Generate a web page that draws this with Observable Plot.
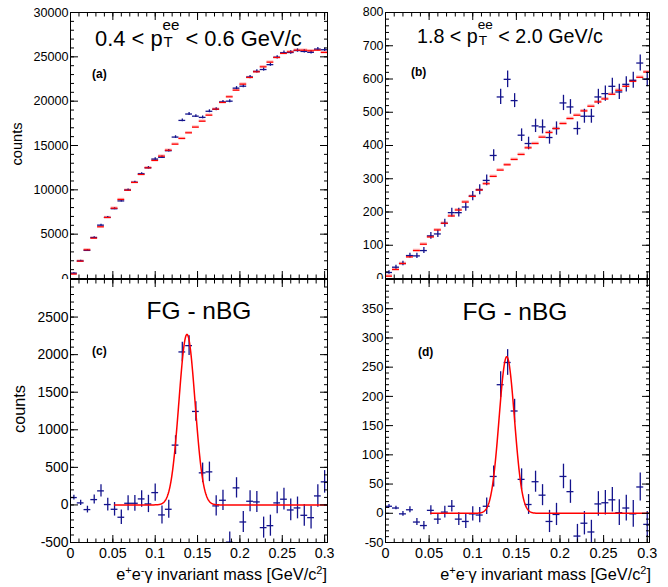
<!DOCTYPE html>
<html><head><meta charset="utf-8">
<script src="https://cdn.jsdelivr.net/npm/d3@7"></script>
<script src="https://cdn.jsdelivr.net/npm/@observablehq/plot@0.6"></script>
<style>
body{margin:0;background:#fff;}
#wrap{position:relative;width:668px;height:587px;background:#fff;overflow:hidden;font-family:"Liberation Sans",Arial,Helvetica,sans-serif;}
</style></head><body><div id="wrap"></div>
<script>
// bin centres of e+e-gamma invariant mass [GeV/c^2]
const mass = [0.004,0.012,0.020,0.028,0.036,0.044,0.052,0.060,0.068,0.076,0.084,0.092,0.100,0.108,0.116,0.124,0.132,0.140,0.148,0.156,0.164,0.172,0.180,0.188,0.196,0.204,0.212,0.220,0.228,0.236,0.244,0.252,0.260,0.268,0.276,0.284,0.292,0.300];
const binHalfWidth = 0.004;

// (a) 0.4 < pT < 0.6 : foreground (blue) and normalised background (red)
const fgA  = [600,1980,3170,4620,6020,6890,7870,8750,9980,10850,11810,12490,13470,13670,14410,15950,17830,18550,18310,18170,18860,19090,19910,20000,21470,21690,22720,23350,23570,24120,24950,25460,25490,25710,25610,25510,25870,25800];
const errA = [60,70,80,90,100,105,110,115,120,125,130,135,140,140,145,150,160,160,160,160,165,165,170,170,175,175,180,180,180,185,185,190,190,190,190,190,190,190];
const nbgA = [500,1955,3230,4550,5830,6880,7930,8910,9960,10830,11730,12480,13310,13800,14470,15150,15790,16430,17070,17740,18420,19100,19850,20490,21240,21920,22670,23310,23870,24400,24920,25380,25560,25750,25750,25680,25750,25490];
const nbgErrA = 130;

// (b) 1.8 < pT < 2.0
const fgB  = [18,34,45,69,68,84,128,134,166,198,198,215,248,267,295,370,546,599,535,431,406,459,456,424,451,528,516,451,488,488,546,556,578,561,584,596,648,599];
const errB = [5,6,7,7,8,9,10,11,12,13,13,13,14,15,16,17,23,25,21,19,19,20,21,20,20,23,22,20,21,21,23,23,24,23,23,24,24,22];
const nbgB = [7,27,45,65,84,103,125,146,166,188,206,230,247,266,285,307,326,342,358,373,393,406,425,439,451,466,481,491,504,518,531,540,554,566,578,593,605,621];
const nbgErrB = 4;

// (c) FG - nBG for (a)
const sigC = [98,27,-62,71,187,5,-58,-164,22,22,80,13,164,-133,-58,796,2036,2120,1244,427,440,-13,62,-495,227,-227,49,40,-302,-276,27,76,-67,-40,-138,-169,120,307];
const errC = [32,35,45,60,80,85,90,95,100,105,110,115,115,120,120,125,130,130,130,130,130,135,135,135,135,140,140,140,140,140,145,145,145,145,145,150,150,150];
const fitC = {mean: 0.1375, sigma: 0.0095, amplitude: 2270, from: 0.052, to: 0.3025};

// (d) FG - nBG for (b)
const sigD = [12,9,-1,6,-15,-21,5,-10,2,12,-10,-14,-1,-3,12,63,220,258,175,58,15,54,31,-14,-2,63,37,-39,-17,-32,16,18,23,1,9,-1,45,-19];
const errD = [3,3,4,5,6,7,8,9,10,10,11,12,12,13,14,18,22,22,20,18,17,18,18,19,19,21,20,20,20,20,21,21,21,22,22,23,24,22];
const fitD = {mean: 0.139, sigma: 0.0088, amplitude: 268, from: 0.052, to: 0.3025};

// tick labels
const xTickLabels = [0, 0.05, 0.1, 0.15, 0.2, 0.25, 0.3];
const yLabelsA = [0, 5000, 10000, 15000, 20000, 25000, 30000];
const yLabelsB = [0, 100, 200, 300, 400, 500, 600, 700, 800];
const yLabelsC = [-500, 0, 500, 1000, 1500, 2000, 2500];
const yLabelsD = [-50, 0, 50, 100, 150, 200, 250, 300, 350];

const FONT = '"Liberation Sans", Arial, Helvetica, sans-serif';
const BLUE = "#13138c", RED = "#ff0000", PINK = "#ff9090";
const wrap = document.getElementById("wrap");

function frameAxes({xDomain, yDomain, yMajorStep, yMinorStep, yLabels, yFont, xLabels, xFont}) {
  const xMajor = d3.range(0, xDomain[1] + 1e-9, 0.05);
  const xMinor = d3.range(0, xDomain[1] + 1e-9, 0.01);
  const yMajor = d3.range(yDomain[0], yDomain[1] + 1e-9, yMajorStep);
  const yMinor = d3.range(yDomain[0], yDomain[1] + 1e-9, yMinorStep);
  const c = {fill: "none", stroke: "black", label: null};
  const m = [
    Plot.axisY(yMajor, {anchor: "left", tickSize: -8, ...c}),
    Plot.axisY(yMinor, {anchor: "left", tickSize: -4, ...c}),
    Plot.axisY(yMajor, {anchor: "right", tickSize: -8, ...c}),
    Plot.axisY(yMinor, {anchor: "right", tickSize: -4, ...c}),
    Plot.axisX(xMajor, {anchor: "bottom", tickSize: -7, ...c}),
    Plot.axisX(xMinor, {anchor: "bottom", tickSize: -3.5, ...c}),
    Plot.axisX(xMajor, {anchor: "top", tickSize: -7, ...c}),
    Plot.axisX(xMinor, {anchor: "top", tickSize: -3.5, ...c}),
    Plot.axisY(yLabels, {anchor: "left", tickSize: 0, tickPadding: 2, fontSize: yFont, tickFormat: d => String(d), label: null, fill: "black"})
  ];
  if (xLabels) m.push(Plot.axisX(xLabels, {anchor: "bottom", tickSize: 0, tickPadding: 5, fontSize: xFont, tickFormat: d => String(d), label: null, fill: "black"}));
  return m;
}

function makePanel({left, top, width, height, mL, mR, mT, mB, xDomain, yDomain, marks, bg}) {
  const svg = Plot.plot({
    width, height, marginLeft: mL, marginRight: mR, marginTop: mT, marginBottom: mB,
    x: {domain: xDomain, axis: null, label: null},
    y: {domain: yDomain, axis: null, label: null},
    style: {fontFamily: FONT, background: bg || "transparent", color: "black"},
    marks: [...marks, Plot.frame({stroke: "black"})]
  });
  svg.style.position = "absolute";
  svg.style.left = left + "px";
  svg.style.top = top + "px";
  wrap.appendChild(svg);
}

function topMarks(fg, err, nbg, nbgErr) {
  const rows = mass.map((x, i) => ({x, fg: fg[i], e: err[i], bg: nbg[i]}));
  return [
    Plot.rect(rows, {x1: d => d.x - binHalfWidth, x2: d => d.x + binHalfWidth, y1: d => d.bg - nbgErr, y2: d => d.bg + nbgErr, fill: PINK, fillOpacity: 0.75, clip: true}),
    Plot.ruleX(rows, {x: "x", y1: d => d.fg - d.e, y2: d => d.fg + d.e, stroke: BLUE, strokeWidth: 1.3, clip: true}),
    Plot.ruleY(rows, {y: "fg", x1: d => d.x - binHalfWidth, x2: d => d.x + binHalfWidth, stroke: BLUE, strokeWidth: 1.3, clip: true}),
    Plot.ruleY(rows, {y: "bg", x1: d => d.x - binHalfWidth, x2: d => d.x + binHalfWidth, stroke: RED, strokeWidth: 1.2, clip: true})
  ];
}

function gaussFit(f) {
  const xs = d3.range(f.from, f.to, 0.0005).concat([f.to]);
  return xs.map(x => ({x, y: f.amplitude * Math.exp(-0.5 * ((x - f.mean) / f.sigma) ** 2)}));
}

function bottomMarks(sig, err, fit) {
  const rows = mass.map((x, i) => ({x, s: sig[i], e: err[i]}));
  return [
    Plot.ruleX(rows, {x: "x", y1: d => d.s - d.e, y2: d => d.s + d.e, stroke: BLUE, strokeWidth: 1.3, clip: true}),
    Plot.ruleY(rows, {y: "s", x1: d => d.x - binHalfWidth, x2: d => d.x + binHalfWidth, stroke: BLUE, strokeWidth: 1.3, clip: true}),
    Plot.line(gaussFit(fit), {x: "x", y: "y", stroke: RED, strokeWidth: 1.5, clip: true})
  ];
}

const xDomL = [0, 0.3034], xDomR = [0, 0.3026];

// top-left (a)
makePanel({left: 0, top: 0, width: 335, height: 290, mL: 70, mR: 8, mT: 12, mB: 12,
  xDomain: xDomL, yDomain: [0, 30000],
  marks: [...topMarks(fgA, errA, nbgA, nbgErrA),
          ...frameAxes({xDomain: xDomL, yDomain: [0, 30000], yMajorStep: 5000, yMinorStep: 1000, yLabels: yLabelsA, yFont: 12.6})]});
// top-right (b)
makePanel({left: 335, top: 0, width: 333, height: 290, mL: 50, mR: 19, mT: 12, mB: 12,
  xDomain: xDomR, yDomain: [0, 800],
  marks: [...topMarks(fgB, errB, nbgB, nbgErrB),
          ...frameAxes({xDomain: xDomR, yDomain: [0, 800], yMajorStep: 100, yMinorStep: 20, yLabels: yLabelsB, yFont: 12.4})]});
// bottom-left (c)
makePanel({left: 0, top: 279, width: 335, height: 308, mL: 70, mR: 8, mT: 0, mB: 45, bg: "white",
  xDomain: xDomL, yDomain: [-500, 3000],
  marks: [...bottomMarks(sigC, errC, fitC),
          ...frameAxes({xDomain: xDomL, yDomain: [-500, 3000], yMajorStep: 500, yMinorStep: 100, yLabels: yLabelsC, yFont: 13.9, xLabels: xTickLabels, xFont: 14.2})]});
// bottom-right (d)
makePanel({left: 335, top: 279, width: 333, height: 308, mL: 50, mR: 19, mT: 0, mB: 45, bg: "white",
  xDomain: xDomR, yDomain: [-50, 400],
  marks: [...bottomMarks(sigD, errD, fitD),
          ...frameAxes({xDomain: xDomR, yDomain: [-50, 400], yMajorStep: 50, yMinorStep: 10, yLabels: yLabelsD, yFont: 13, xLabels: xTickLabels, xFont: 14.4})]});

// text overlay
const ov = d3.select(wrap).append("svg").attr("width", 668).attr("height", 587)
  .style("position", "absolute").style("left", "0px").style("top", "0px")
  .style("font-family", FONT).attr("fill", "black");

function pTitle(x0, base, fs, pre, post) {
  const t1 = ov.append("text").attr("x", x0).attr("y", base).attr("font-size", fs).text(pre);
  const w1 = t1.node().getComputedTextLength();
  const sfs = fs * 0.69;
  const s1 = ov.append("text").attr("x", x0 + w1).attr("y", base - 0.72 * fs).attr("font-size", sfs).text("ee");
  ov.append("text").attr("x", x0 + w1 + 1).attr("y", base + 0.07 * fs).attr("font-size", sfs).text("T");
  const ws = s1.node().getComputedTextLength();
  ov.append("text").attr("x", x0 + w1 + ws + 0.278 * fs).attr("y", base).attr("font-size", fs).text(post);
}
pTitle(95, 45.5, 21.9, "0.4 < p", "< 0.6 GeV/c");
pTitle(417, 43.3, 19.7, "1.8 < p", "< 2.0 GeV/c");

[["(a)", 92, 77.5], ["(b)", 411, 76], ["(c)", 92, 355], ["(d)", 418, 355.5]].forEach(([t, x, y]) =>
  ov.append("text").attr("x", x).attr("y", y).attr("font-size", 12).attr("font-weight", "bold").text(t));

ov.append("text").attr("x", 199).attr("y", 318.5).attr("font-size", 24.5).attr("text-anchor", "middle").text("FG - nBG");
ov.append("text").attr("x", 515).attr("y", 319.5).attr("font-size", 24.5).attr("text-anchor", "middle").text("FG - nBG");

ov.append("text").attr("transform", "translate(21.7,144) rotate(-90)").attr("font-size", 14.6).attr("text-anchor", "middle").text("counts");
ov.append("text").attr("transform", "translate(25,409) rotate(-90)").attr("font-size", 16.3).attr("text-anchor", "middle").text("counts");

function massLabel(xRight, base) {
  const t = ov.append("text").attr("x", xRight).attr("y", base).attr("text-anchor", "end").attr("font-size", 16.3);
  t.append("tspan").text("e");
  t.append("tspan").attr("font-size", 11).attr("dy", -6).text("+");
  t.append("tspan").attr("dy", 6).text("e");
  t.append("tspan").attr("font-size", 11).attr("dy", -6).text("-");
  t.append("tspan").attr("dy", 6).text("\u03b3 invariant mass [GeV/c");
  t.append("tspan").attr("font-size", 11).attr("dy", -6).text("2");
  t.append("tspan").attr("dy", 6).text("]");
}
massLabel(327, 579.5);
massLabel(651, 579.5);
</script>
</body></html>
